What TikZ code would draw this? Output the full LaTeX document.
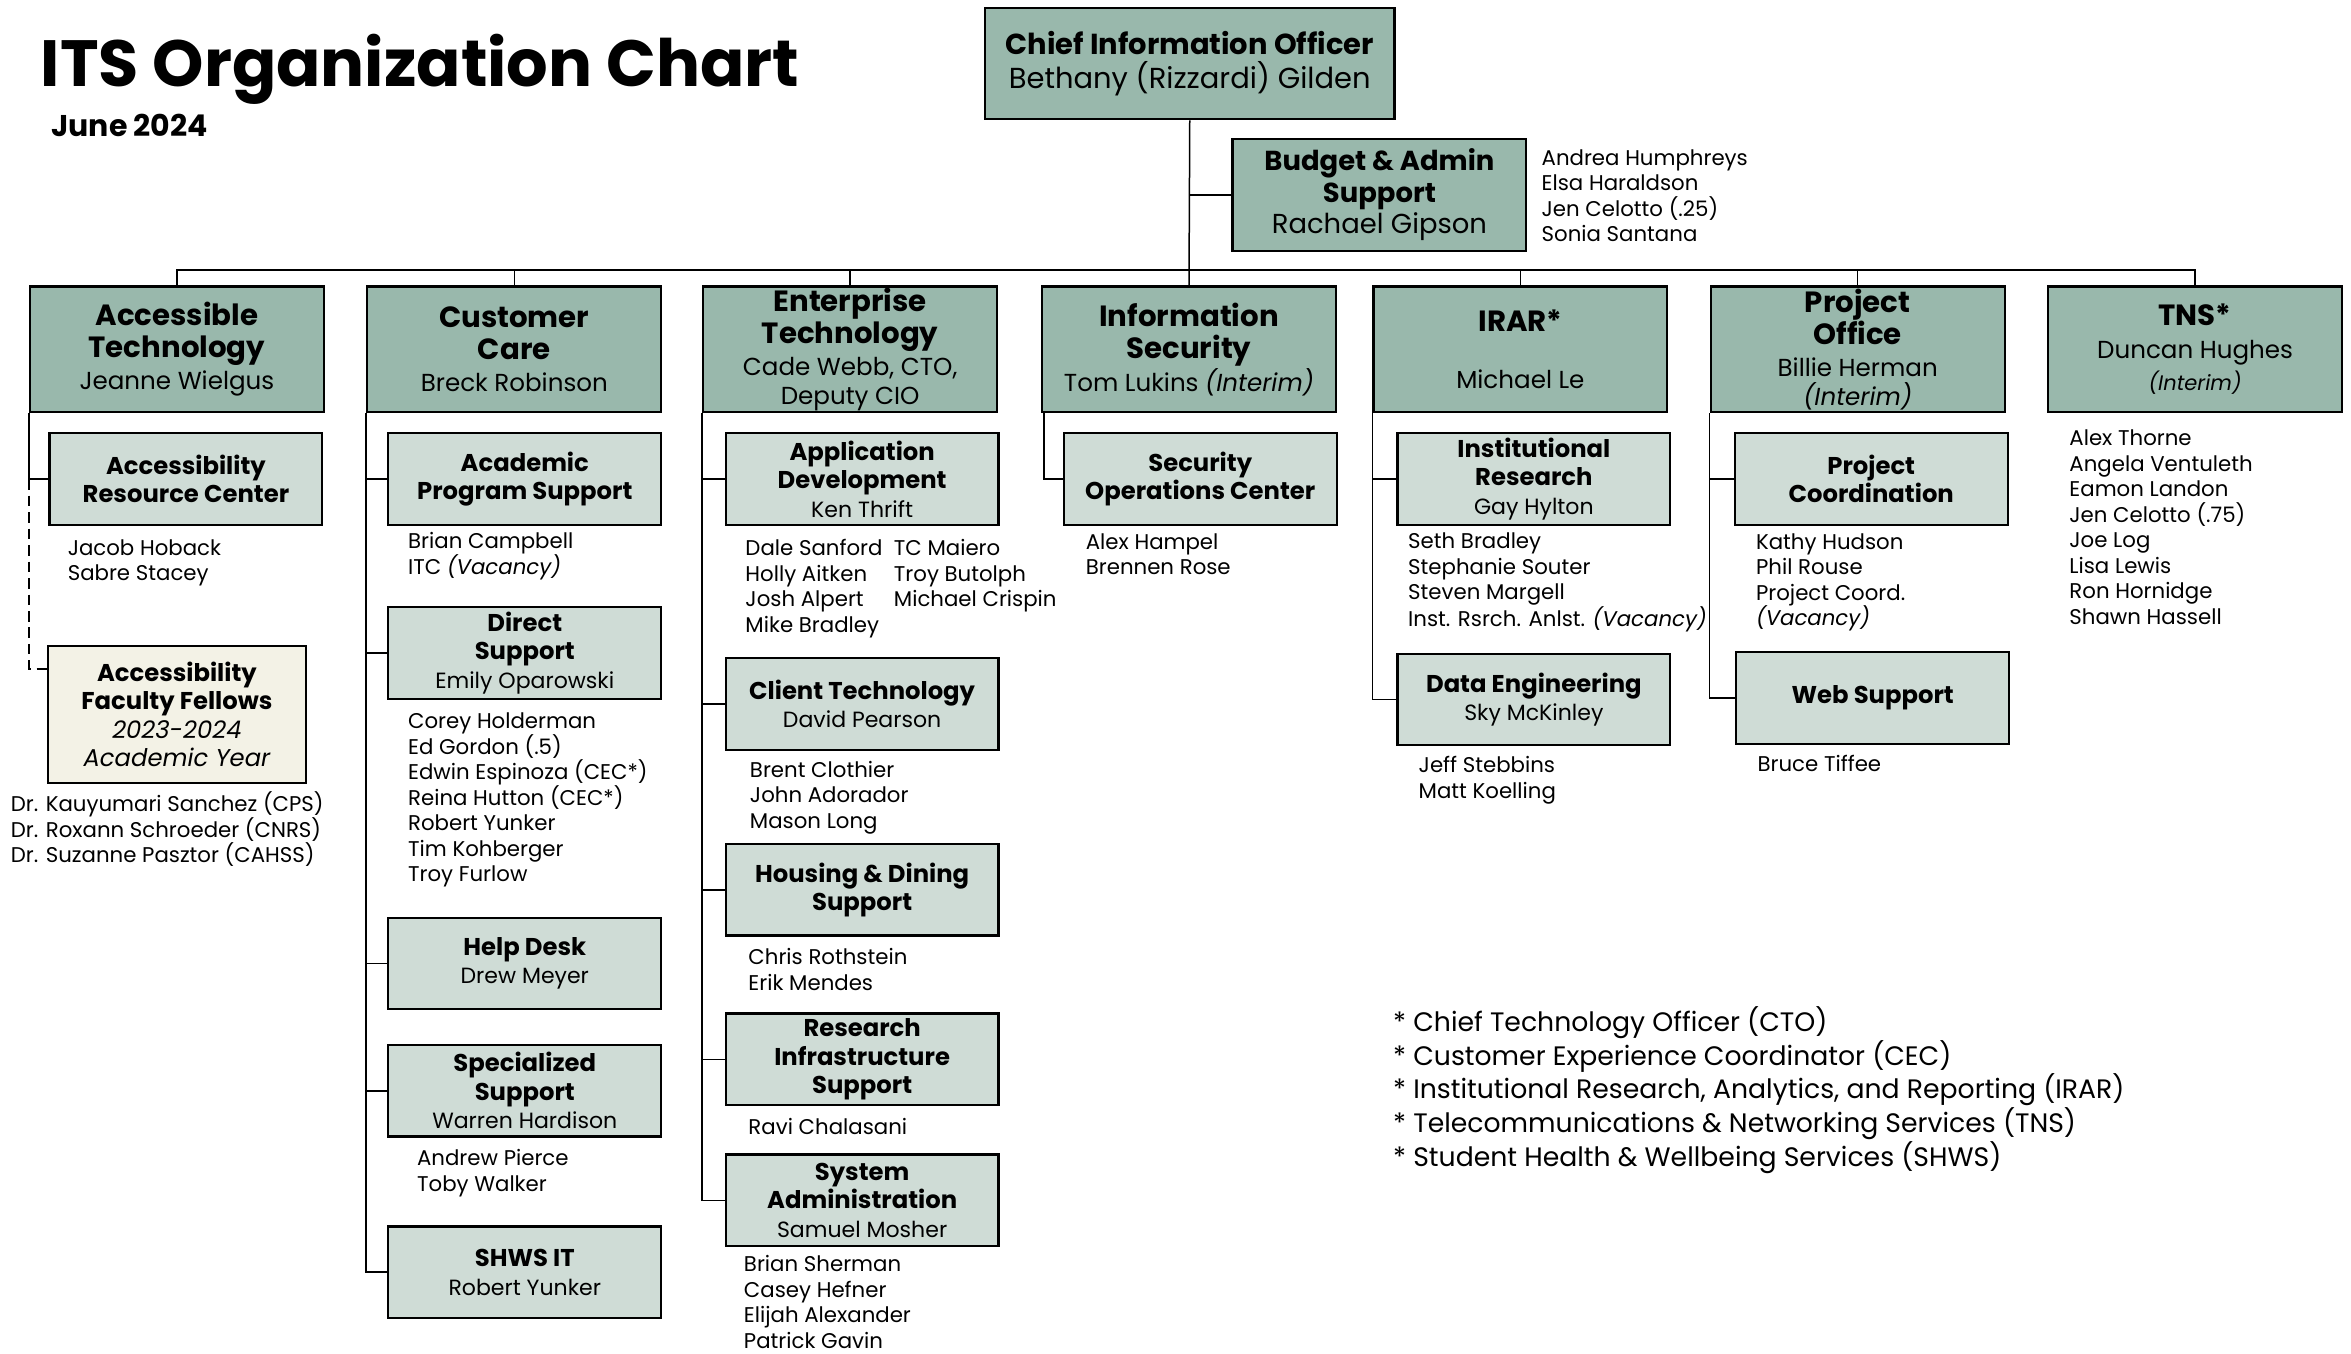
\documentclass[tikz,border=0pt]{standalone}
\usepackage{fontspec}
\setmainfont{Poppins}
\usetikzlibrary{positioning}
\definecolor{headgreen}{HTML}{99B8AC}
\definecolor{unitgreen}{HTML}{CFDCD6}
\definecolor{fellowcream}{HTML}{F3F2E6}
\newcommand{\headname}[1]{{\mdseries\fontsize{16.4}{21}\selectfont #1}}
\newcommand{\unitname}[1]{{\mdseries\fontsize{14.7}{19}\selectfont #1}}

\begin{document}
\begin{tikzpicture}[x=1pt,y=-1pt,
    head/.style={draw, line width=1.5pt, fill=headgreen, minimum width=196pt, minimum height=84pt,
        inner sep=0pt, align=center, font=\fontsize{19.5}{21.5}\selectfont\bfseries},
    unit/.style={draw, line width=1.5pt, fill=unitgreen, minimum width=182pt, minimum height=61pt,
        inner sep=0pt, align=center, font=\fontsize{16.2}{19}\selectfont\bfseries},
    staff/.style={anchor=west, align=left, inner sep=0pt, font=\fontsize{14.2}{17}\selectfont},
    link/.style={line width=1pt}]
        \pgfmathsetmacro{\heady}{233}
        \pgfmathsetmacro{\unity}{319.5}

        \fill[white] (0,0) rectangle (1568,903);
        \useasboundingbox (0,0) rectangle (1568,903);

        % title
        \node[anchor=base west, inner sep=0pt, font=\fontsize{43.6}{46}\selectfont\bfseries] (title) at (27,58) {ITS Organization Chart};
        \node[anchor=base west, inner sep=0pt, font=\fontsize{20}{22}\selectfont\bfseries] (date) at (34,91) {June 2024};

        % top
        \node[head, minimum width=273pt, minimum height=74pt, font=\fontsize{19.3}{22.5}\selectfont\bfseries] (cio) at (793.5,42.5) {Chief Information Officer\\\mdseries Bethany (Rizzardi) Gilden};
        \node[head, minimum height=75pt, font=\fontsize{18.3}{21}\selectfont\bfseries] (budget) at (920,130) {Budget \& Admin\\Support\\\mdseries Rachael Gipson};
        \node[staff] (budgetstaff) at (1028,130.5) {Andrea Humphreys\\Elsa Haraldson\\Jen Celotto (.25)\\Sonia Santana};

        % departments
        \node[head] (acc) at (118,\heady) {Accessible\\Technology\\\headname{Jeanne Wielgus}};
        \node[head] (cc) at (343,\heady) {Customer\\Care\\\headname{Breck Robinson}};
        \node[head] (ent) at (567,\heady) {Enterprise\\Technology\\\headname{Cade Webb, CTO,}\\[-2.5pt]\headname{Deputy CIO}};
        \node[head] (infosec) at (793,\heady) {Information\\Security\\\headname{Tom Lukins \textit{(Interim)}}};
        \node[head] (irar) at (1014,\heady) {IRAR*\\[16pt]\headname{Michael Le}};
        \node[head] (po) at (1239,\heady) {Project\\Office\\\headname{Billie Herman}\\[-2.5pt]\headname{\textit{(Interim)}}};
        \node[head] (tns) at (1464,\heady) {TNS*\\\headname{Duncan Hughes}\\{\mdseries\fontsize{14}{17}\selectfont\textit{(Interim)}}};

        % accessible technology
        \node[unit] (arc) at (124,\unity) {Accessibility\\Resource Center};
        \node[staff] (arcstaff) at (45,375.5) {Jacob Hoback\\Sabre Stacey};
        \node[unit, fill=fellowcream, minimum width=172pt, minimum height=91pt] (aff) at (118,476.5) {Accessibility\\Faculty Fellows\\{\mdseries\itshape 2023-2024}\\{\mdseries\itshape Academic Year}};
        \node[staff] (affstaff) at (7,553) {Dr. Kauyumari Sanchez (CPS)\\Dr. Roxann Schroeder (CNRS)\\Dr. Suzanne Pasztor (CAHSS)};

        % customer care
        \node[unit] (aps) at (350,\unity) {Academic\\Program Support};
        \node[staff] (apsstaff) at (272,371) {Brian Campbell\\ITC \textit{(Vacancy)}};
        \node[unit] (ds) at (350,435.5) {Direct\\Support\\\unitname{Emily Oparowski}};
        \node[staff] (dsstaff) at (272,533.5) {Corey Holderman\\Ed Gordon (.5)\\Edwin Espinoza (CEC*)\\Reina Hutton (CEC*)\\Robert Yunker\\Tim Kohberger\\Troy Furlow};
        \node[unit] (hd) at (350,642.5) {Help Desk\\\unitname{Drew Meyer}};
        \node[unit] (ss) at (350,727.5) {Specialized\\Support\\\unitname{Warren Hardison}};
        \node[staff] (ssstaff) at (278,782.5) {Andrew Pierce\\Toby Walker};
        \node[unit] (shws) at (350,848.5) {SHWS IT\\\unitname{Robert Yunker}};

        % enterprise technology
        \node[unit] (ad) at (575,\unity) {Application\\Development\\\unitname{Ken Thrift}};
        \node[staff] (adstaffa) at (497,392.5) {Dale Sanford\\Holly Aitken\\Josh Alpert\\Mike Bradley};
        \node[staff] (adstaffb) at (596,384) {TC Maiero\\Troy Butolph\\Michael Crispin};
        \node[unit] (ct) at (575,469.5) {Client Technology\\\unitname{David Pearson}};
        \node[staff] (ctstaff) at (500,532) {Brent Clothier\\John Adorador\\Mason Long};
        \node[unit] (hds) at (575,593.5) {Housing \& Dining\\Support};
        \node[staff] (hdsstaff) at (499,646.5) {Chris Rothstein\\Erik Mendes};
        \node[unit] (ris) at (575,706.5) {Research\\Infrastructure\\Support};
        \node[staff] (risstaff) at (499,751) {Ravi Chalasani};
        \node[unit] (sa) at (575,800.5) {System\\Administration\\\unitname{Samuel Mosher}};
        \node[staff] (sastaff) at (496,868.5) {Brian Sherman\\Casey Hefner\\Elijah Alexander\\Patrick Gavin};

        % information security
        \node[unit] (soc) at (800.5,\unity) {Security\\Operations Center};
        \node[staff] (socstaff) at (724,369.5) {Alex Hampel\\Brennen Rose};

        % irar
        \node[unit] (ir) at (1023,\unity) {Institutional\\Research\\\unitname{Gay Hylton}};
        \node[staff] (irstaff) at (939,388.5) {Seth Bradley\\Stephanie Souter\\Steven Margell\\Inst. Rsrch. Anlst. \textit{(Vacancy)}};
        \node[unit] (de) at (1023,466.5) {Data Engineering\\\unitname{Sky McKinley}};
        \node[staff] (destaff) at (946,520.5) {Jeff Stebbins\\Matt Koelling};

        % project office
        \node[unit] (pc) at (1248,\unity) {Project\\Coordination};
        \node[staff] (pcstaff) at (1171,388.5) {Kathy Hudson\\Phil Rouse\\Project Coord.\\\textit{(Vacancy)}};
        \node[unit] (ws) at (1249,465.5) {Web Support};
        \node[staff] (wsstaff) at (1172,509) {Bruce Tiffee};

        % tns
        \node[staff] (tnsstaff) at (1380,351.5) {Alex Thorne\\Angela Ventuleth\\Eamon Landon\\Jen Celotto (.75)\\Joe Log\\Lisa Lewis\\Ron Hornidge\\Shawn Hassell};

        % notes
        \node[staff, font=\fontsize{17.8}{21}\selectfont] (notes) at (929,727) {* Chief Technology Officer (CTO)\\* Customer Experience Coordinator (CEC)\\* Institutional Research, Analytics, and Reporting (IRAR)\\* Telecommunications \& Networking Services (TNS)\\* Student Health \& Wellbeing Services (SHWS)};

        % lines
        \coordinate (bus) at (0,180);
        \draw[link] (cio.south) -- (infosec.north);
        \draw[link] (cio.south |- budget.west) -- (budget.west);
        \draw[link] (acc.north) |- (bus -| tns.north) -- (tns.north);
        \foreach \d in {cc,ent,irar,po}
            \draw[link] (\d.north) -- (\d.north |- bus);

        \draw[link] (acc.south west) |- (arc.west);
        \draw[link, dash pattern=on 7pt off 4pt] (arc.west -| acc.south west) |- ([yshift=-16pt]aff.north west);
        \foreach \u in {aps,ds,hd,ss,shws}
            \draw[link] (cc.south west) |- (\u.west);
        \foreach \u in {ad,ct,hds,ris,sa}
            \draw[link] (ent.south west) |- (\u.west);
        \draw[link] ([xshift=2pt]infosec.south west) |- (soc.west);
        \foreach \u in {ir,de}
            \draw[link] (irar.south west) |- (\u.west);
        \foreach \u in {pc,ws}
            \draw[link] (po.south west) |- (\u.west);

    \end{tikzpicture}
\end{document}
